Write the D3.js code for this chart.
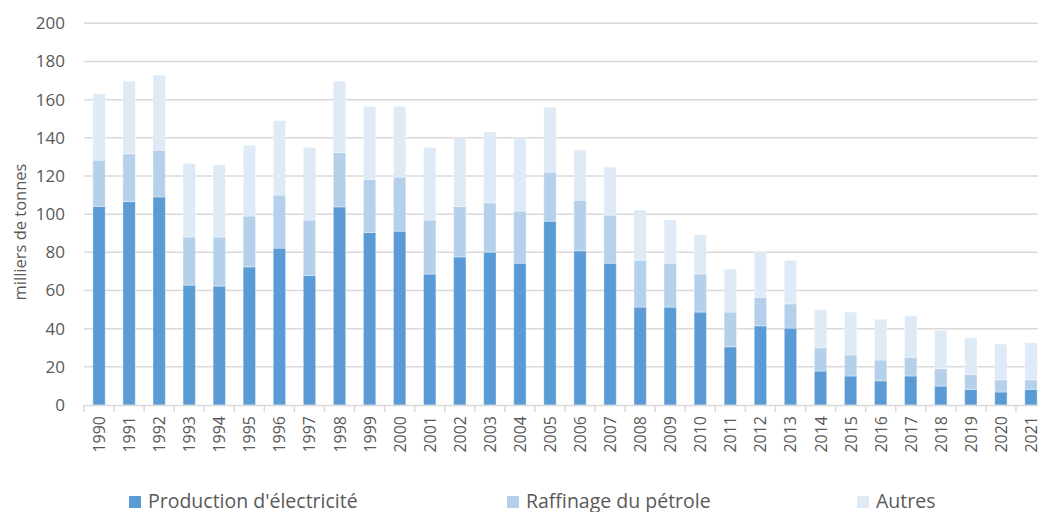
<!DOCTYPE html>
<html><head><meta charset="utf-8">
<script src="https://cdn.jsdelivr.net/npm/d3@7"></script>
<style>body{margin:0;background:#fff;}svg{display:block;font-family:"Open Sans","Noto Sans",sans-serif;}</style>
</head><body><svg id="c" width="1038" height="512"></svg>
<script>
const years = ["1990","1991","1992","1993","1994","1995","1996","1997","1998","1999","2000","2001","2002","2003","2004","2005","2006","2007","2008","2009","2010","2011","2012","2013","2014","2015","2016","2017","2018","2019","2020","2021"];
const electricite = [104,106.6,109,62.8,62.3,72.4,82.2,67.9,103.8,90.4,91.1,68.6,77.6,80.1,74.3,96.3,80.8,74.3,51.3,51.3,48.7,30.5,41.5,40.3,17.8,15.2,12.7,15.2,9.9,8.2,6.8,8.2];
const raffinage = [24.3,25,24.5,25.2,25.7,26.6,27.8,29,28.5,27.8,28.3,28.3,26.4,25.8,27.3,25.7,26.5,25.2,24.5,23,19.9,18.2,14.9,12.7,12.2,11,10.9,9.8,9.1,7.7,6.4,5];
const autres = [34.7,38,39.3,38.5,37.8,37.1,39,38,37.3,38.3,37.1,38,36,37.2,38.4,34,26.2,25.1,26.3,22.6,20.6,22.5,23.6,22.8,19.9,22.5,21.3,21.8,20.1,19.3,18.7,19.4];
const seriesNames = ["Production d'électricité","Raffinage du pétrole","Autres"];
const colors = ["#5B9BD5","#B4D0EA","#DEEAF6"];
const yTicks = [0,20,40,60,80,100,120,140,160,180,200];

const svg = d3.select("#c");
const x = d3.scaleBand().domain(years).range([84,1046]).paddingInner(0.59).paddingOuter(0.295);
const y = d3.scaleLinear().domain([0,200]).range([405,23.3]);
const txt = "#595959";

svg.append("g").selectAll("line").data(yTicks.filter(d=>d>0)).join("line")
  .attr("x1",84).attr("x2",1038).attr("y1",d=>y(d)).attr("y2",d=>y(d))
  .attr("stroke","#D9D9D9").attr("stroke-width",1.5);

const rows = years.map((yr,i)=>({year:yr,e:electricite[i],r:raffinage[i],a:autres[i]}));
const stack = d3.stack().keys(["e","r","a"])(rows);
svg.append("g").selectAll("g").data(stack).join("g").attr("fill",(d,i)=>colors[i])
  .selectAll("rect").data(d=>d).join("rect")
  .attr("x",d=>x(d.data.year)).attr("width",x.bandwidth())
  .attr("y",d=>y(d[1])).attr("height",d=>y(d[0])-y(d[1]))
  .attr("stroke","#ffffff").attr("stroke-opacity",0.35).attr("stroke-width",1);

const xb = d3.scaleLinear().domain([0,32]).range([84,1046]);
const ax = svg.append("g");
ax.append("line").attr("x1",84).attr("x2",1038).attr("y1",405.5).attr("y2",405.5).attr("stroke","#D9D9D9").attr("stroke-width",1.5);
ax.selectAll("line.t").data(d3.range(0,32)).join("line").attr("class","t")
  .attr("x1",d=>xb(d)).attr("x2",d=>xb(d)).attr("y1",405).attr("y2",412)
  .attr("stroke","#D9D9D9").attr("stroke-width",1.5);
ax.selectAll("text").data(years).join("text")
  .attr("transform",d=>`translate(${x(d)+x.bandwidth()/2+6},416) rotate(-90)`)
  .attr("text-anchor","end").attr("fill",txt).style("font-size","16px").text(d=>d);

svg.append("g").selectAll("text").data(yTicks).join("text")
  .attr("x",65).attr("y",d=>y(d)+6).attr("text-anchor","end")
  .attr("fill",txt).style("font-size","17px").text(d=>d);

svg.append("text").attr("transform","translate(26,232) rotate(-90)")
  .attr("text-anchor","middle").attr("fill",txt).style("font-size","16.5px").text("milliers de tonnes");

const legX = [129,507,857];
const lg = svg.append("g").selectAll("g").data(seriesNames).join("g")
  .attr("transform",(d,i)=>`translate(${legX[i]},0)`);
lg.append("rect").attr("x",0).attr("y",496).attr("width",12).attr("height",12).attr("fill",(d,i)=>colors[i]);
lg.append("text").attr("x",19).attr("y",508).attr("fill",txt).style("font-size","19.5px").text(d=>d);
</script></body></html>
